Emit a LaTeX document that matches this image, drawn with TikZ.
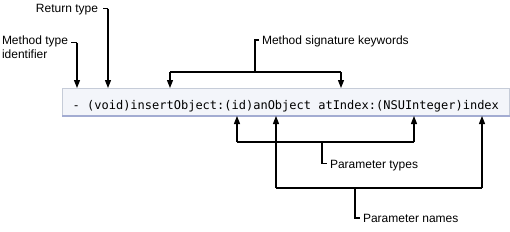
\documentclass[tikz,border=0pt]{standalone}
\usepackage{fontspec}
\setmainfont{Liberation Sans}
\newfontfamily\codefont{DejaVu Sans Mono}
\usetikzlibrary{arrows.meta}
\definecolor{boxfill}{HTML}{F3F5FA}
\definecolor{boxedge}{HTML}{C6CCD8}
\definecolor{boxshade}{HTML}{A3ACD2}
\begin{document}
\begin{tikzpicture}[x=1bp,y=-1bp,
  lbl/.style={font=\fontsize{12bp}{14bp}\selectfont, inner sep=0pt, outer sep=0pt},
  conn/.style={line width=1.2bp, black},
  tip/.style={conn, -{Triangle[length=8bp,width=6bp]}},
  codebox/.style={draw=boxedge, fill=boxfill, line width=0.8bp, inner sep=0pt,
    minimum width=447bp, minimum height=28bp, anchor=north west}]
\useasboundingbox (0,0) rectangle (510,231);
% code box
\node[codebox] (box) at (62,88) {};
\draw[boxshade, line width=1.6bp] ([yshift=0.8bp]box.south west) -- ([yshift=0.8bp]box.south east);
\node[inner sep=0pt, anchor=base west, font=\codefont\fontsize{12bp}{14bp}\selectfont] (code) at (72.5,109.5)
  {- (void)insertObject:(id)anObject atIndex:(NSUInteger)index};
% labels
\node[lbl, anchor=north west, align=left] (mt) at (2,35.8) {Method type\\identifier};
\node[lbl, anchor=base east] (rt) at (98,12.7) {Return type};
\node[lbl, anchor=base west] (kw) at (262,44) {Method signature keywords};
\node[lbl, anchor=base west] (pt) at (330,168) {Parameter types};
\node[lbl, anchor=base west] (pn) at (363,222) {Parameter names};
% method type identifier
\coordinate (mt1) at (71,42.5);
\coordinate (mt2) at (77,42.5);
\coordinate (mtE) at (77,88);
\draw[conn] (mt1) -- (mt2);
\draw[tip] (mt2) -- (mtE);
% return type
\coordinate (rt1) at (103,8.5);
\coordinate (rt2) at (108,8.5);
\coordinate (rtE) at (108,88);
\draw[conn] (rt1) -- (rt2);
\draw[tip] (rt2) -- (rtE);
% keywords
\coordinate (kw1) at (259,40);
\coordinate (kw2) at (255,40);
\coordinate (kw3) at (255,72);
\coordinate (kwL) at (170,72);
\coordinate (kwR) at (341,72);
\coordinate (kwLE) at (170,88);
\coordinate (kwRE) at (341,88);
\draw[conn] (kw1) -- (kw2) -- (kw3);
\draw[conn] (kwL) -- (kwR);
\draw[tip] (kwL) -- (kwLE);
\draw[tip] (kwR) -- (kwRE);
% parameter types
\coordinate (ptL) at (237,142);
\coordinate (ptR) at (414,142);
\coordinate (ptLE) at (237,116);
\coordinate (ptRE) at (414,116);
\coordinate (pt1) at (322,142);
\coordinate (pt2) at (322,163.5);
\coordinate (pt3) at (326.5,163.5);
\draw[conn] (ptL) -- (ptR);
\draw[tip] (ptL) -- (ptLE);
\draw[tip] (ptR) -- (ptRE);
\draw[conn] (pt1) -- (pt2) -- (pt3);
% parameter names
\coordinate (pnL) at (276,188);
\coordinate (pnR) at (482,188);
\coordinate (pnLE) at (276,116);
\coordinate (pnRE) at (482,116);
\coordinate (pn1) at (355,188);
\coordinate (pn2) at (355,218);
\coordinate (pn3) at (359.5,218);
\draw[conn] (pnL) -- (pnR);
\draw[tip] (pnL) -- (pnLE);
\draw[tip] (pnR) -- (pnRE);
\draw[conn] (pn1) -- (pn2) -- (pn3);
\end{tikzpicture}
\end{document}
